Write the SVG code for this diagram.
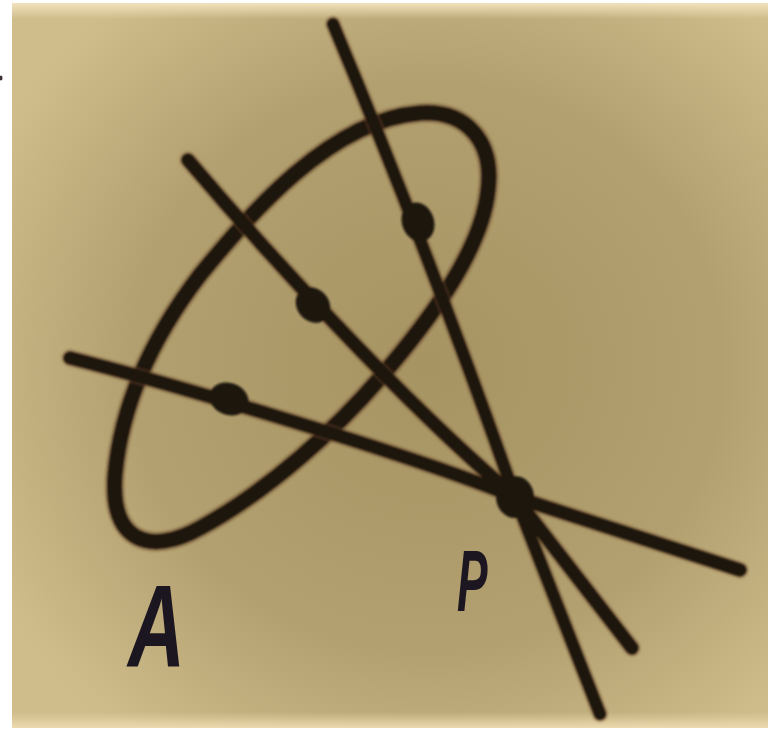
<svg xmlns="http://www.w3.org/2000/svg" width="768" height="734" viewBox="0 0 768 734">
  <defs>
    <radialGradient id="paper" cx="0.55" cy="0.5" r="0.65">
      <stop offset="0" stop-color="#a79463"/>
      <stop offset="0.6" stop-color="#b2a070"/>
      <stop offset="1" stop-color="#cfbd8c"/>
    </radialGradient>
    <linearGradient id="topband" x1="0" y1="0" x2="0" y2="1">
      <stop offset="0" stop-color="#f2e2bc"/>
      <stop offset="1" stop-color="#f2e2bc" stop-opacity="0"/>
    </linearGradient>
    <linearGradient id="botband" x1="0" y1="0" x2="0" y2="1">
      <stop offset="0" stop-color="#ead6a8" stop-opacity="0"/>
      <stop offset="1" stop-color="#ecdab0"/>
    </linearGradient>
    <filter id="soft" x="-5%" y="-5%" width="110%" height="110%">
      <feGaussianBlur stdDeviation="0.9"/>
    </filter>
  </defs>
  <style>
    .halo { fill: none; stroke: #6a4a2a; stroke-opacity: 0.45; stroke-linecap: round; stroke-linejoin: round; }
    .ink { fill: none; stroke: #1e130d; stroke-linecap: round; stroke-linejoin: round; }
    .knot { fill: #1e130d; }
    .label { font-family: "Liberation Sans", Arial, sans-serif; font-style: italic; font-weight: bold; fill: #1c1620; }
  </style>

  <rect width="768" height="734" fill="#ffffff"/>
  <g id="photo">
    <rect x="12" y="3" width="756" height="725" fill="url(#paper)"/>
    <rect x="12" y="3" width="756" height="16" fill="url(#topband)"/>
    <rect x="12" y="712" width="756" height="16" fill="url(#botband)"/>
  </g>
  <ellipse cx="1" cy="78" rx="1.5" ry="2.5" fill="#3a3030"/>

  <g filter="url(#soft)">
    <g id="curve-A">
      <path class="halo" stroke-width="20" d="M 420,113 C 467,110 494,142 488,190 C 482,250 430,320 380,378 C 337,428 270,490 200,528 C 150,556 110,542 115,475 C 119,430 135,360 200,275 C 250,214 330,120 420,113 Z"/>
      <path class="ink" stroke-width="15" d="M 420,113 C 467,110 494,142 488,190 C 482,250 430,320 380,378 C 337,428 270,490 200,528 C 150,556 110,542 115,475 C 119,430 135,360 200,275 C 250,214 330,120 420,113 Z"/>
    </g>

    <g id="connectors">
      <path class="halo" stroke-width="16" d="M 333,24 Q 428,250 515,497 L 600,714"/>
      <path class="halo" stroke-width="17" d="M 188,160 C 260,245 400,400 515,497 L 632,648"/>
      <path class="halo" stroke-width="17" d="M 70,358 C 150,378 400,450 515,497 L 740,570"/>
      <path class="ink" stroke-width="12" d="M 333,24 Q 428,250 515,497 L 600,714"/>
      <path class="ink" stroke-width="13" d="M 188,160 C 260,245 400,400 515,497 L 632,648"/>
      <path class="ink" stroke-width="13" d="M 70,358 C 150,378 400,450 515,497 L 740,570"/>
    </g>

    <g id="point-1"><ellipse class="knot" cx="418" cy="222" rx="16" ry="20" transform="rotate(-20 418 222)"/></g>
    <g id="point-2"><ellipse class="knot" cx="313" cy="305" rx="16" ry="19" transform="rotate(-40 313 305)"/></g>
    <g id="point-3"><ellipse class="knot" cx="229" cy="399" rx="16" ry="20" transform="rotate(-70 229 399)"/></g>
    <g id="point-P"><ellipse class="knot" cx="515" cy="497" rx="19" ry="21"/></g>
  </g>

  <g id="label-A">
    <text class="label" font-size="116" transform="translate(128,667) scale(0.68,1)">A</text>
  </g>
  <g id="label-P">
    <text class="label" font-size="88" transform="translate(457,611) scale(0.52,1)">P</text>
  </g>
</svg>
